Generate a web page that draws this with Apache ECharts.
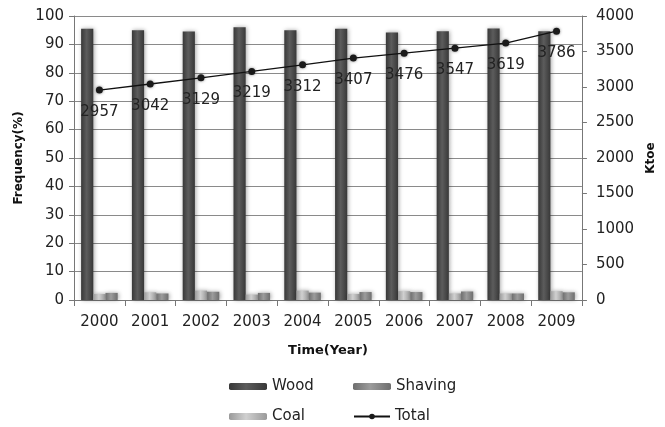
<!DOCTYPE html>
<html>
<head>
<meta charset="utf-8">
<script src="https://cdn.jsdelivr.net/npm/echarts@6/dist/echarts.min.js"></script>
<style>
  html, body { margin: 0; padding: 0; background: #fff; }
  #chart { width: 665px; height: 427px; }
</style>
</head>
<body>
<div id="chart"></div>
<script>
// Fuel use by year: shares (%) on the left axis, total consumption (ktoe) on the right
const years = ['2000', '2001', '2002', '2003', '2004', '2005', '2006', '2007', '2008', '2009'];
const wood = [95.5, 95.0, 94.5, 96.0, 95.0, 95.5, 94.2, 94.6, 95.6, 94.6];
const coal = [2.1, 2.7, 3.3, 1.9, 3.3, 2.1, 3.1, 2.3, 2.3, 3.1];
const shaving = [2.5, 2.3, 2.9, 2.5, 2.6, 2.8, 2.8, 3.0, 2.3, 2.7];
const total = [2957, 3042, 3129, 3219, 3312, 3407, 3476, 3547, 3619, 3786];

const font = 'DejaVu Sans';

// bevelled look: darker edges, lighter centre
function bevel(edge, mid) {
  return {
    type: 'linear', x: 0, y: 0, x2: 1, y2: 0,
    colorStops: [
      { offset: 0, color: edge },
      { offset: 0.45, color: mid },
      { offset: 1, color: edge }
    ]
  };
}

const barShadow = {
  shadowBlur: 4,
  shadowColor: 'rgba(0,0,0,0.35)',
  shadowOffsetX: 1,
  shadowOffsetY: 0
};

const legendText = { fontFamily: font, fontSize: 15, color: '#222' };

function legendAt(name, left, top, w, h) {
  return {
    data: [name], left: left, top: top,
    itemWidth: w, itemHeight: h,
    itemGap: 0, padding: 0,
    textStyle: legendText,
    selectedMode: false
  };
}

const plain = v => String(v);

const chart = echarts.init(document.getElementById('chart'));
chart.setOption({
  animation: false,
  backgroundColor: '#fff',
  grid: { left: 74, right: 81, top: 16, bottom: 127 },
  legend: [
    legendAt('Wood', 229, 379, 38, 7),
    legendAt('Shaving', 353, 379, 38, 7),
    legendAt('Coal', 229, 409, 38, 7),
    legendAt('Total', 353, 409, 36, 7)
  ],
  xAxis: {
    type: 'category',
    data: years,
    name: 'Time(Year)',
    nameLocation: 'middle',
    nameGap: 44,
    nameTextStyle: { fontFamily: font, fontSize: 13, fontWeight: 'bold', color: '#111' },
    axisLine: { lineStyle: { color: '#777', width: 1 } },
    axisTick: { show: true, length: 6, lineStyle: { color: '#777' } },
    axisLabel: { fontFamily: font, fontSize: 15, color: '#222', margin: 15 }
  },
  yAxis: [
    {
      type: 'value',
      min: 0, max: 100, interval: 10,
      name: 'Frequency(%)',
      nameLocation: 'middle',
      nameRotate: 90,
      nameGap: 49,
      nameTextStyle: { fontFamily: font, fontSize: 12, fontWeight: 'bold', color: '#111' },
      axisLine: { show: true, lineStyle: { color: '#777' } },
      axisTick: { show: true, length: 5, lineStyle: { color: '#777' } },
      axisLabel: { fontFamily: font, fontSize: 15, color: '#222', margin: 10, formatter: plain },
      splitLine: { show: true, lineStyle: { color: '#8a8a8a', width: 1 } }
    },
    {
      type: 'value',
      min: 0, max: 4000, interval: 500,
      name: 'Ktoe',
      nameLocation: 'middle',
      nameRotate: 90,
      nameGap: 62,
      nameTextStyle: { fontFamily: font, fontSize: 12, fontWeight: 'bold', color: '#111' },
      axisLine: { show: true, lineStyle: { color: '#777' } },
      axisTick: { show: true, length: 5, lineStyle: { color: '#777' } },
      axisLabel: { fontFamily: font, fontSize: 15, color: '#222', margin: 14, formatter: plain },
      splitLine: { show: false }
    }
  ],
  series: [
    {
      name: 'Wood', type: 'bar', data: wood,
      barGap: '0%', barCategoryGap: '28%',
      itemStyle: Object.assign({ color: bevel('#383838', '#5c5c5c') }, barShadow)
    },
    {
      name: 'Coal', type: 'bar', data: coal,
      itemStyle: Object.assign({ color: bevel('#9a9a9a', '#d0d0d0') }, barShadow)
    },
    {
      name: 'Shaving', type: 'bar', data: shaving,
      itemStyle: Object.assign({ color: bevel('#6e6e6e', '#9c9c9c') }, barShadow)
    },
    {
      name: 'Total', type: 'line', yAxisIndex: 1, data: total,
      symbol: 'circle', symbolSize: 7,
      itemStyle: { color: '#1a1a1a', shadowBlur: 3, shadowColor: 'rgba(0,0,0,0.5)' },
      lineStyle: { color: '#111', width: 1.3 },
      label: {
        show: true, position: 'bottom', distance: 11,
        fontFamily: font, fontSize: 15, color: '#222'
      },
      z: 5
    }
  ]
});
</script>
</body>
</html>
